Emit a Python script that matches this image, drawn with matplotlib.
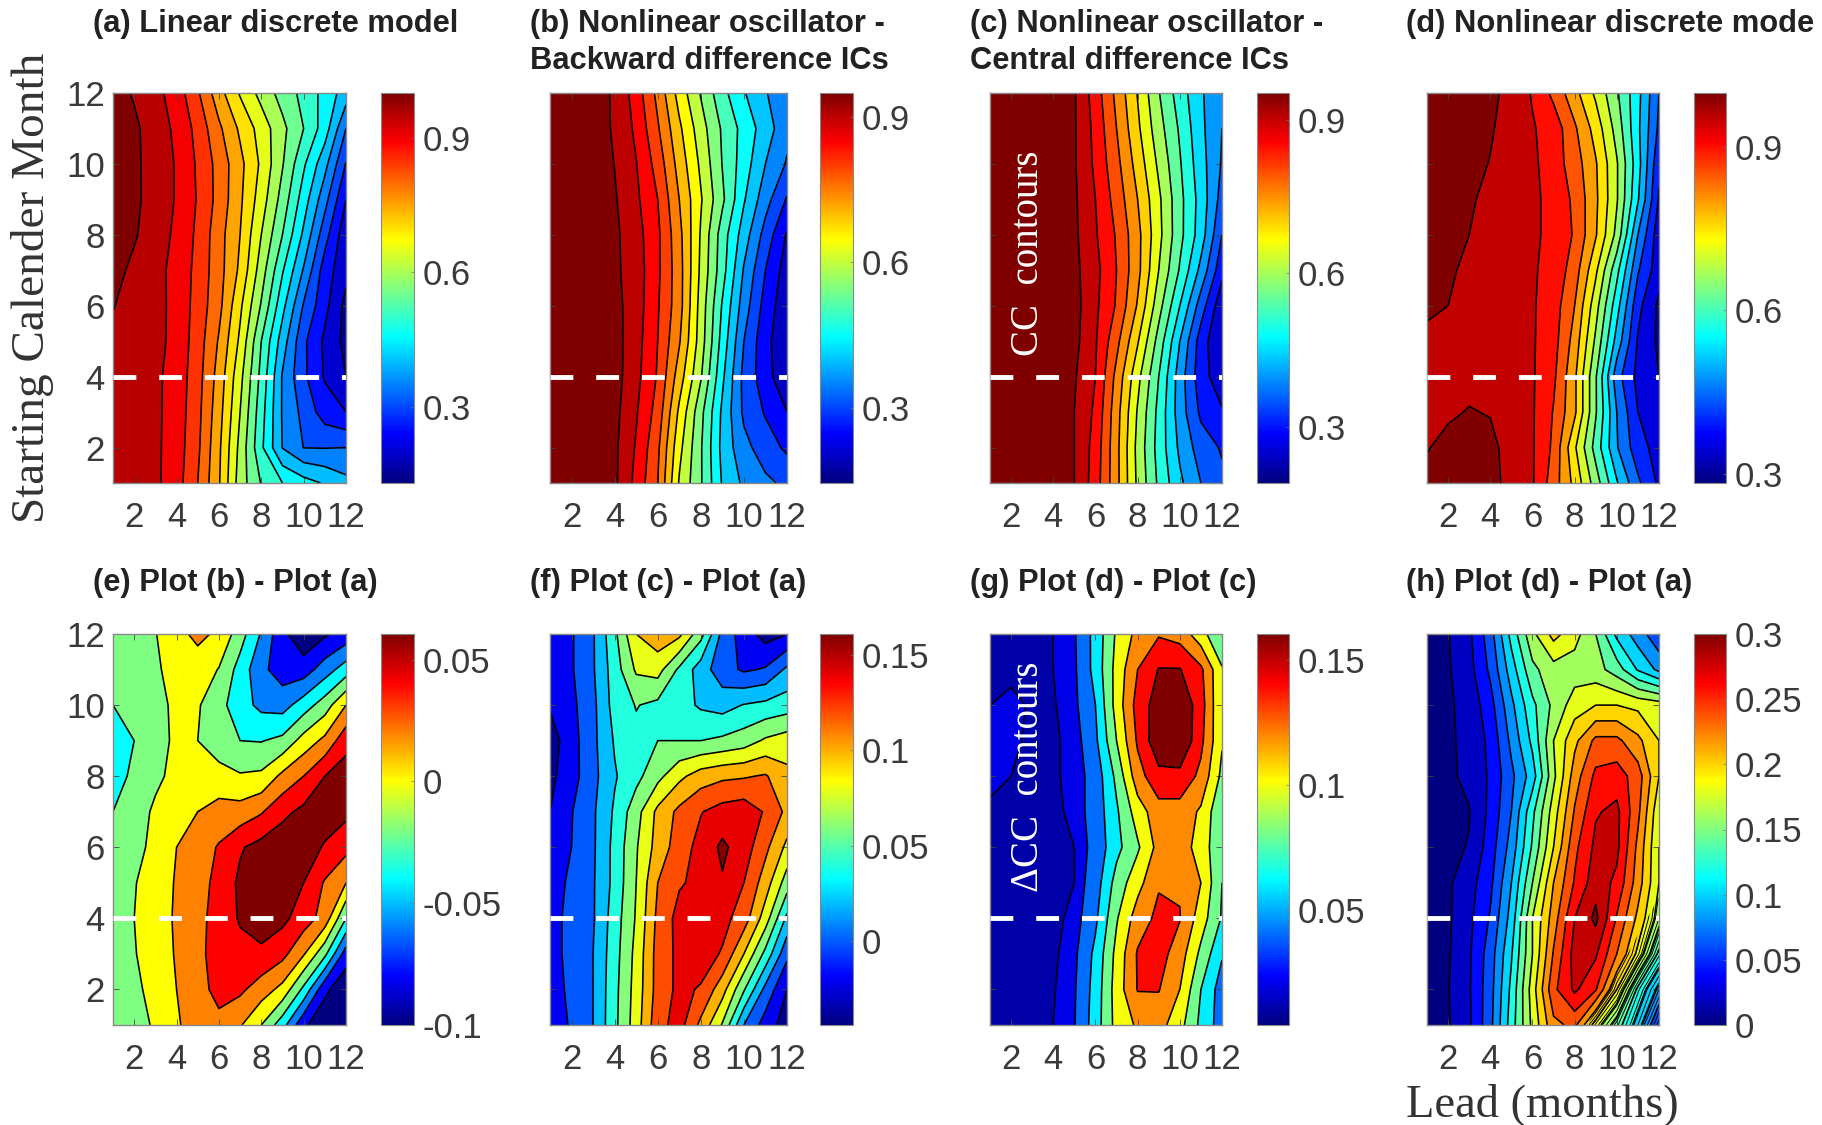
import numpy as np
import matplotlib
matplotlib.use("Agg")
import matplotlib.pyplot as plt
from matplotlib.colors import LinearSegmentedColormap, Normalize
from matplotlib.cm import ScalarMappable
from matplotlib.patches import Polygon

W, H = 1822, 1125

lead = list(range(1, 13))
month = list(range(1, 13))

# rows are starting month 1..12, columns are lead 1..12
cc_a = [
    [.930, .925, .910, .872, .800, .705, .575, .497, .450, .420, .395, .365],
    [.930, .925, .910, .875, .810, .710, .585, .460, .348, .299, .298, .300],
    [.930, .925, .910, .878, .815, .720, .600, .470, .345, .285, .225, .200],
    [.930, .925, .910, .880, .820, .730, .615, .485, .345, .260, .195, .150],
    [.940, .930, .915, .885, .825, .745, .640, .500, .375, .260, .190, .135],
    [.952, .932, .915, .886, .830, .765, .660, .545, .415, .295, .215, .135],
    [.965, .940, .915, .885, .835, .770, .690, .575, .455, .345, .225, .165],
    [.985, .955, .925, .890, .840, .770, .700, .600, .500, .390, .270, .165],
    [.985, .960, .930, .896, .846, .783, .709, .625, .530, .425, .318, .200],
    [.985, .960, .929, .896, .843, .782, .714, .641, .554, .458, .366, .247],
    [.980, .960, .925, .890, .834, .760, .691, .629, .563, .500, .425, .300],
    [.970, .945, .915, .877, .807, .720, .645, .583, .530, .485, .433, .375],
]
cc_b = [
    [.950, .940, .925, .910, .835, .750, .595, .505, .395, .340, .310, .290],
    [.950, .940, .925, .910, .845, .760, .615, .505, .385, .315, .275, .240],
    [.950, .940, .930, .915, .855, .780, .640, .515, .390, .290, .245, .200],
    [.950, .945, .935, .920, .865, .795, .675, .555, .410, .285, .220, .160],
    [.950, .945, .935, .920, .870, .800, .705, .575, .430, .300, .215, .160],
    [.950, .945, .935, .915, .875, .805, .720, .580, .445, .325, .230, .165],
    [.950, .945, .930, .910, .875, .810, .720, .590, .470, .345, .250, .175],
    [.950, .940, .930, .910, .870, .810, .715, .595, .475, .375, .280, .195],
    [.950, .940, .925, .905, .860, .800, .700, .605, .510, .405, .320, .245],
    [.950, .940, .925, .899, .852, .780, .680, .590, .498, .425, .350, .295],
    [.950, .940, .925, .894, .840, .756, .660, .572, .493, .432, .375, .315],
    [.940, .935, .920, .894, .827, .736, .630, .546, .466, .404, .354, .310],
]
cc_c = [
    [.950, .950, .945, .940, .900, .825, .715, .590, .490, .410, .350, .310],
    [.950, .950, .945, .940, .900, .830, .715, .585, .480, .390, .325, .295],
    [.950, .950, .945, .940, .900, .840, .720, .595, .485, .375, .290, .255],
    [.950, .950, .945, .940, .905, .850, .735, .615, .500, .375, .270, .220],
    [.950, .950, .945, .940, .915, .855, .765, .655, .530, .400, .275, .200],
    [.950, .950, .945, .940, .918, .860, .795, .695, .570, .450, .325, .215],
    [.950, .950, .945, .940, .913, .865, .800, .715, .600, .495, .385, .265],
    [.950, .950, .945, .940, .910, .855, .795, .715, .615, .515, .425, .300],
    [.950, .950, .945, .940, .908, .850, .780, .700, .610, .515, .430, .330],
    [.950, .950, .945, .940, .905, .840, .765, .680, .590, .505, .420, .345],
    [.950, .950, .945, .940, .905, .835, .750, .660, .570, .493, .412, .350],
    [.950, .950, .945, .940, .905, .825, .737, .647, .553, .475, .407, .355],
]
cc_d = [
    [.960, .970, .970, .965, .935, .905, .825, .735, .625, .505, .410, .340],
    [.948, .960, .965, .960, .935, .905, .840, .708, .580, .454, .370, .330],
    [.940, .945, .952, .948, .925, .905, .847, .760, .605, .450, .350, .310],
    [.930, .935, .940, .935, .920, .905, .860, .760, .605, .420, .335, .300],
    [.940, .930, .925, .920, .915, .905, .870, .780, .640, .480, .345, .290],
    [.958, .950, .935, .925, .915, .905, .875, .800, .670, .520, .365, .290],
    [.965, .955, .943, .930, .915, .905, .885, .825, .710, .565, .405, .320],
    [.980, .965, .950, .935, .920, .910, .885, .845, .755, .635, .450, .320],
    [.985, .970, .955, .940, .925, .910, .885, .840, .760, .655, .505, .345],
    [.990, .980, .965, .948, .928, .910, .875, .825, .755, .655, .520, .360],
    [.990, .985, .975, .955, .930, .904, .880, .808, .730, .630, .510, .390],
    [.999, .990, .980, .965, .930, .896, .837, .767, .690, .607, .515, .400],
]
diff_e = [
    [-.030, -.026, -.018, -.002, .008, .014, .002, -.020, -.052, -.096, -.115, -.120],
    [-.031, -.024, -.014, .000, .012, .027, .024, .010, -.006, -.045, -.095, -.115],
    [-.032, -.021, -.012, .002, .014, .030, .034, .036, .026, .002, -.035, -.090],
    [-.032, -.020, -.011, .003, .014, .028, .042, .050, .045, .030, .012, -.040],
    [-.033, -.021, -.012, .002, .012, .026, .044, .052, .050, .040, .018, .000],
    [-.035, -.027, -.014, .000, .008, .022, .038, .047, .052, .050, .038, .026],
    [-.040, -.034, -.015, -.010, .000, .006, .008, .018, .035, .045, .050, .045],
    [-.050, -.035, -.026, -.012, -.008, -.010, -.018, -.016, .005, .020, .040, .050],
    [-.050, -.040, -.028, -.016, -.020, -.035, -.040, -.041, -.035, -.012, .005, .033],
    [-.040, -.036, -.026, -.016, -.018, -.033, -.052, -.065, -.068, -.050, -.030, .000],
    [-.030, -.027, -.022, -.015, -.008, -.021, -.048, -.075, -.090, -.090, -.070, -.050],
    [-.030, -.027, -.021, -.005, .004, -.003, -.031, -.062, -.095, -.115, -.103, -.092],
]
diff_f = [
    [-.030, -.018, .000, .035, .070, .113, .128, .095, .058, .000, -.029, -.050],
    [-.030, -.015, .000, .034, .068, .108, .125, .118, .088, .042, -.006, -.040],
    [-.030, -.012, .000, .032, .066, .108, .125, .130, .118, .080, .034, -.015],
    [-.030, -.012, -.002, .030, .062, .105, .127, .130, .127, .110, .070, .015],
    [-.032, -.015, -.002, .026, .060, .100, .118, .125, .138, .120, .090, .050],
    [-.035, -.020, -.003, .026, .058, .088, .110, .127, .144, .130, .105, .075],
    [-.040, -.021, -.003, .023, .052, .085, .105, .119, .128, .132, .118, .095],
    [-.045, -.028, -.006, .018, .034, .054, .075, .090, .096, .098, .102, .085],
    [-.050, -.028, -.005, .022, .035, .040, .040, .040, .044, .050, .063, .070],
    [-.038, -.025, -.005, .028, .041, .035, .028, .017, .012, .021, .025, .030],
    [-.032, -.022, -.002, .030, .063, .068, .036, .010, -.012, -.023, -.018, .004],
    [-.030, -.022, -.002, .035, .080, .092, .085, .047, -.006, -.030, -.048, -.040],
]
diff_g = [
    [.005, .005, .006, .010, .019, .050, .087, .103, .108, .087, .055, .030],
    [.005, .005, .006, .009, .018, .048, .089, .121, .121, .100, .060, .030],
    [.005, .005, .006, .008, .016, .045, .086, .122, .128, .110, .075, .042],
    [.005, .005, .006, .008, .012, .036, .078, .110, .125, .121, .090, .058],
    [.006, .006, .007, .008, .010, .030, .068, .093, .118, .118, .100, .060],
    [.006, .006, .007, .008, .010, .026, .054, .077, .107, .112, .090, .065],
    [.008, .008, .008, .008, .012, .028, .057, .090, .112, .112, .097, .062],
    [.013, .010, .008, .009, .012, .028, .065, .112, .134, .134, .115, .075],
    [.014, .012, .008, .009, .012, .036, .080, .123, .155, .160, .125, .082],
    [.010, .014, .008, .009, .016, .040, .088, .128, .150, .157, .129, .080],
    [.006, .006, .008, .010, .017, .047, .087, .120, .141, .141, .124, .082],
    [.006, .006, .007, .010, .018, .047, .083, .106, .118, .112, .088, .060],
]
diff_h = [
    [-.005, -.002, .016, .054, .110, .165, .215, .225, .170, .130, .090, .040],
    [-.005, -.001, .018, .052, .105, .170, .235, .264, .242, .180, .115, .075],
    [-.005, -.002, .017, .050, .098, .160, .222, .268, .263, .220, .175, .115],
    [-.005, -.003, .015, .042, .088, .160, .210, .260, .285, .238, .195, .150],
    [-.006, -.003, .012, .035, .080, .140, .200, .242, .272, .255, .210, .160],
    [-.006, -.004, .001, .030, .068, .123, .180, .235, .265, .265, .215, .160],
    [-.006, -.004, -.001, .025, .060, .115, .170, .222, .258, .265, .225, .165],
    [-.006, -.004, .005, .023, .055, .090, .155, .210, .245, .250, .230, .180],
    [-.006, -.003, .005, .025, .065, .105, .160, .195, .225, .225, .205, .180],
    [-.006, -.003, .007, .032, .075, .115, .145, .170, .180, .180, .175, .170],
    [-.005, -.002, .013, .044, .090, .135, .152, .150, .148, .130, .098, .075],
    [-.005, -.001, .016, .051, .107, .155, .187, .168, .140, .095, .070, .045],
]

levels_a = [.15, .20, .25, .30, .35, .40, .45, .50, .55, .60, .65, .70, .75, .80, .85, .90, .95]
levels_b = [.20, .25, .30, .35, .40, .45, .50, .55, .60, .65, .70, .75, .80, .85, .90]
levels_c = [.20, .25, .30, .35, .40, .45, .50, .55, .60, .65, .70, .75, .80, .85, .90]
levels_d = [.30, .35, .40, .45, .50, .55, .60, .65, .70, .75, .80, .85, .90, .95]
levels_e = [-.10, -.08, -.06, -.04, -.02, 0, .02, .04]
levels_f = [-.04, -.02, 0, .02, .04, .06, .08, .10, .12, .14]
levels_g = [.01, .02, .04, .06, .08, .10, .12, .14]
levels_h = [0, .02, .04, .06, .08, .10, .12, .14, .16, .18, .20, .22, .24, .26, .28]

clim_a = (.13, 1.0)
clim_b = (.144, .95)
clim_c = (.19, .952)
clim_d = (.283, .999)
clim_e = (-.1, .0605)
clim_f = (-.044, .161)
clim_g = (.0037, .1606)
clim_h = (0, .3)

ticks_a = [.3, .6, .9]
ticks_d = [.3, .6, .9]
ticks_e = [-.1, -.05, 0, .05]
ticks_f = [0, .05, .1, .15]
ticks_g = [.05, .1, .15]
ticks_h = [0, .05, .1, .15, .2, .25, .3]
ticklabels_a = ["0.3", "0.6", "0.9"]
ticklabels_e = ["-0.1", "-0.05", "0", "0.05"]
ticklabels_f = ["0", "0.05", "0.1", "0.15"]
ticklabels_g = ["0.05", "0.1", "0.15"]
ticklabels_h = ["0", "0.05", "0.1", "0.15", "0.2", "0.25", "0.3"]

titles = ["(a) Linear discrete model",
          "(b) Nonlinear oscillator -\nBackward difference ICs",
          "(c) Nonlinear oscillator -\nCentral difference ICs",
          "(d) Nonlinear discrete mode",
          "(e) Plot (b) - Plot (a)",
          "(f) Plot (c) - Plot (a)",
          "(g) Plot (d) - Plot (c)",
          "(h) Plot (d) - Plot (a)"]

# matlab's jet, matplotlib's own is a bit different
jet = LinearSegmentedColormap.from_list("mjet", [
    (0, (0, 0, .5)), (.125, (0, 0, 1)), (.375, (0, 1, 1)),
    (.625, (1, 1, 0)), (.875, (1, 0, 0)), (1, (.5, 0, 0))], N=256)

plt.rcParams["font.family"] = ["Liberation Sans", "DejaVu Sans"]
plt.rcParams["contour.negative_linestyle"] = "solid"
GREY = "#3a3a3a"


def box(x0, y0, x1, y1):
    return [x0 / W, 1 - y1 / H, (x1 - x0) / W, (y1 - y0) / H]


def panel(fig, z, levels, clim, ticks, ticklabels, title, pos, cpos, title_x, title_y, ylabels):
    ax = fig.add_axes(box(*pos))
    norm = Normalize(*clim)
    step = levels[-1] - levels[-2]
    fills = levels + [levels[-1] + step]
    colors = [jet(norm(v)) for v in fills]
    bounds = [-5] + levels + [5]
    ax.contourf(lead, month, z, levels=bounds, colors=colors)
    ax.contour(lead, month, z, levels=levels, colors="k", linewidths=1.15)
    # white dashed line at April
    ax.plot([1, 12], [4, 4], color="white", lw=3.5, dashes=(4.7, 4.7), solid_capstyle="butt", zorder=5)
    ax.set_xlim(1, 12)
    ax.set_ylim(1, 12)
    ax.set_xticks([2, 4, 6, 8, 10, 12])
    ax.set_yticks([2, 4, 6, 8, 10, 12])
    if not ylabels:
        ax.set_yticklabels([])
    ax.tick_params(direction="in", top=True, right=True, length=4, width=0.6, color="#444444",
                   labelsize=25, labelcolor=GREY)
    ax.tick_params(axis="x", pad=13)
    ax.tick_params(axis="y", pad=6)
    for s in ax.spines.values():
        s.set_color("#888888")
        s.set_linewidth(1.0)

    cax = fig.add_axes(box(*cpos))
    cb = fig.colorbar(ScalarMappable(norm=norm, cmap=jet), cax=cax)
    cb.set_ticks(ticks)
    cb.set_ticklabels(ticklabels)
    cb.ax.tick_params(direction="in", length=2, width=0.5, color="#777777",
                      labelsize=25, labelcolor=GREY, pad=6)
    cb.outline.set_edgecolor("#888888")
    cb.outline.set_linewidth(0.8)

    fig.text(title_x / W, 1 - title_y / H, title, fontsize=22.2, fontweight="bold",
             color="#222222", va="top", ha="left", linespacing=1.3)
    return ax


fig = plt.figure(figsize=(W / 100, H / 100), dpi=100)

cols = [(113, 346), (550, 787), (990, 1222), (1427, 1659)]
cbars = [(381, 414), (820, 853), (1257, 1289), (1694, 1726)]
title_xs = [93, 530, 970, 1406]
rows = [(93, 483), (634, 1025)]
title_ys = [9, 568]

data = [cc_a, cc_b, cc_c, cc_d, diff_e, diff_f, diff_g, diff_h]
levs = [levels_a, levels_b, levels_c, levels_d, levels_e, levels_f, levels_g, levels_h]
clims = [clim_a, clim_b, clim_c, clim_d, clim_e, clim_f, clim_g, clim_h]
tick_sets = [ticks_a, ticks_a, ticks_a, ticks_d, ticks_e, ticks_f, ticks_g, ticks_h]
label_sets = [ticklabels_a, ticklabels_a, ticklabels_a, ticklabels_a,
              ticklabels_e, ticklabels_f, ticklabels_g, ticklabels_h]

axes = []
for i in range(8):
    r, c = divmod(i, 4)
    axes.append(panel(fig, data[i], levs[i], clims[i], tick_sets[i], label_sets[i], titles[i],
                      (cols[c][0], rows[r][0], cols[c][1], rows[r][1]),
                      (cbars[c][0], rows[r][0], cbars[c][1], rows[r][1]),
                      title_xs[c], title_ys[r], c == 0))

# the dense contours in the lower right corner of (h)
ax_h = axes[7]
corner = Polygon([(8.6, 1), (10.5, 3), (12, 4.6), (12, 1)], transform=ax_h.transData)
fine = ax_h.contour(lead, month, diff_h, levels=np.arange(0, .24, .0075), colors="k", linewidths=0.7)
fine.set_clip_path(corner)

serif = ["Liberation Serif", "DejaVu Serif"]
fig.text(33 / W, 1 - 288 / H, "Starting Calender Month", rotation=90, family=serif, fontsize=34,
         color="#333333", ha="center", va="center")
fig.text(1542 / W, 1 - 1105 / H, "Lead (months)", family=serif, fontsize=33.5,
         color="#333333", ha="center", va="center")
fig.text(1029 / W, 1 - 253 / H, "CC  contours", rotation=90, family=serif, fontsize=28,
         color="white", ha="center", va="center", zorder=6)
fig.text(1029 / W, 1 - 777 / H, "\u0394CC  contours", rotation=90, family=serif, fontsize=28,
         color="white", ha="center", va="center", zorder=6)

fig.savefig("out.png", dpi=100)
